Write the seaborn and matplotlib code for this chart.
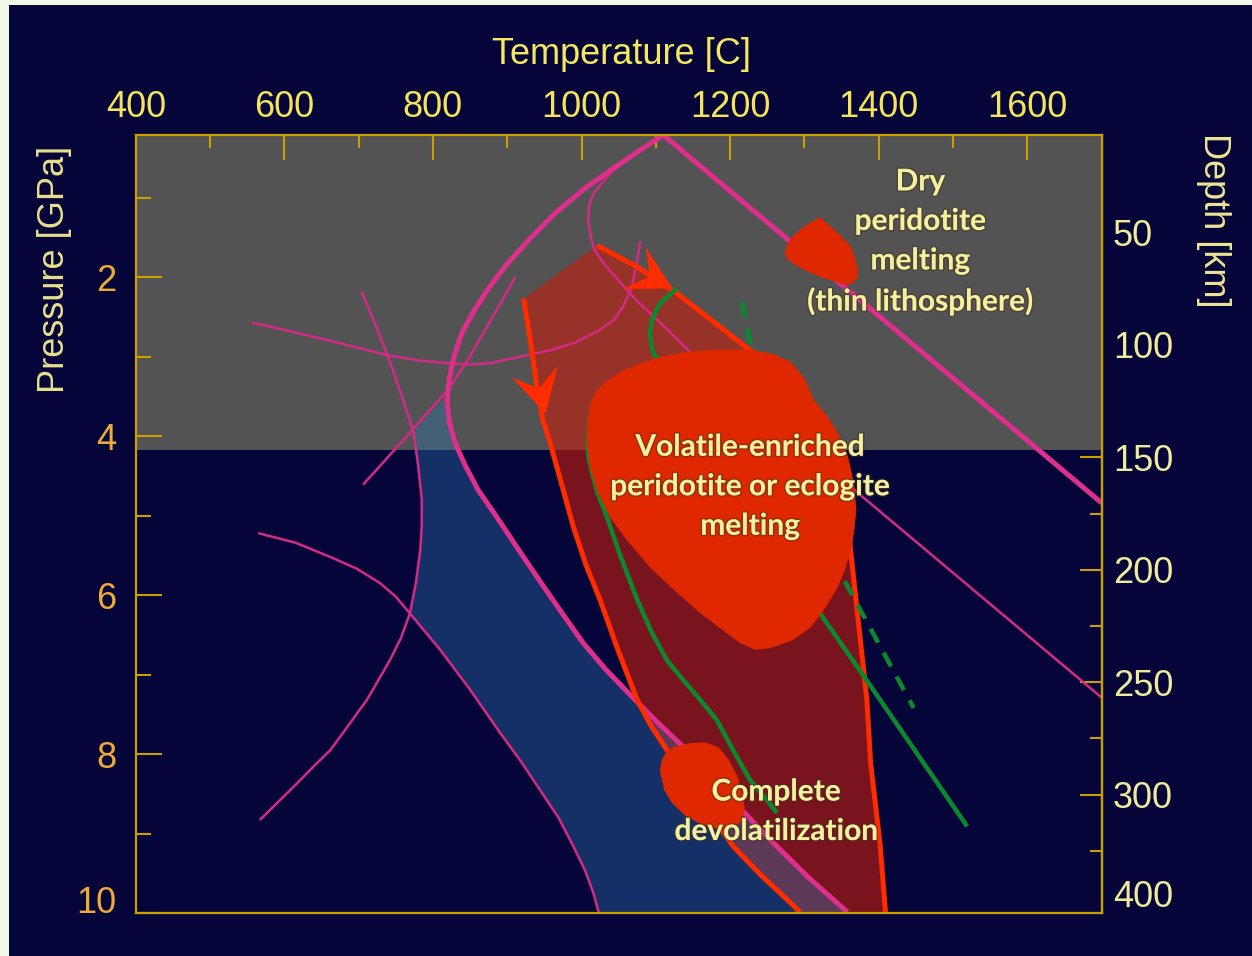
import numpy as np
import matplotlib
matplotlib.use("Agg")
import matplotlib.pyplot as plt
import matplotlib.patheffects as pe
from matplotlib.markers import MarkerStyle
from matplotlib.patches import Rectangle
from matplotlib.path import Path
from matplotlib.transforms import Affine2D
import seaborn as sns

sns.set_theme(style="white")
plt.rcParams["font.family"] = ["Liberation Sans", "DejaVu Sans"]

NAVY = "#05053a"
BORDER = "#f0f8e8"
GRAY = "#535353"
GOLD = "#c9a000"
PINK = "#de2f8c"
PINK_THIN = "#d42a86"
RED_LINE = "#ff2c00"
BLOB = "#e02800"
GREEN = "#0a8a2e"
LABEL = "#f5f0a0"

# ---- axes ----
temp_range = (400, 1700)
pressure_range = (10.0, 0.21)
temp_major = [400, 600, 800, 1000, 1200, 1400, 1600]
temp_minor = [500, 700, 900, 1100, 1300, 1500]
pressure_major = [2, 4, 6, 8, 10]
pressure_minor = [1, 3, 5, 7, 9]
depth_major = [50, 100, 150, 200, 250, 300, 350]
depth_major_labels = ["50", "100", "150", "200", "250", "300", "400"]
depth_minor = [25, 75, 125, 175, 225, 275, 325]
km_per_gpa = 35.33
depth_offset_gpa = 0.02
lithosphere_base = 4.17

# ---- curves: temperature [C], pressure [GPa] ----
solidus_t = [1700, 1110, 1079, 1041, 1002, 965, 931, 901, 877, 856, 839, 829, 822, 819, 822, 830,
             843, 861, 884, 911, 940, 971, 1002, 1033, 1066, 1102, 1137, 1196, 1254, 1305, 1358]
solidus_p = [4.84, 0.21, 0.40, 0.64, 0.90, 1.19, 1.51, 1.82, 2.11, 2.41, 2.70, 2.98, 3.27, 3.55, 3.82, 4.09,
             4.36, 4.68, 4.99, 5.37, 5.77, 6.19, 6.60, 6.94, 7.26, 7.60, 7.91, 8.51, 9.08, 9.55, 9.99]

thin_a_t = [556, 608, 662, 738, 783, 819, 850, 877, 917, 958, 992, 1025, 1043, 1056, 1068, 1075, 1079]
thin_a_p = [2.57, 2.68, 2.80, 2.98, 3.05, 3.08, 3.10, 3.08, 3.00, 2.92, 2.82, 2.66, 2.54, 2.37, 2.12, 1.78, 1.55]

thin_b_t = [1079, 1059, 1039, 1025, 1016, 1010, 1009, 1012, 1016, 1024, 1034, 1047, 1061, 1076, 1092,
            1119, 1146, 1700]
thin_b_p = [0.40, 0.53, 0.69, 0.84, 0.95, 1.10, 1.28, 1.46, 1.62, 1.75, 1.87, 2.01, 2.16, 2.31, 2.45,
            2.69, 2.94, 7.29]

thin_c_t = [704, 721, 738, 750, 760, 768, 774, 780, 785, 785, 783, 777, 769, 757, 742, 726, 711, 687,
            662, 639, 617, 592, 567]
thin_c_p = [2.18, 2.56, 2.96, 3.27, 3.55, 3.77, 3.96, 4.36, 4.80, 5.12, 5.43, 5.85, 6.23, 6.54, 6.82,
            7.08, 7.32, 7.63, 7.95, 8.16, 8.37, 8.60, 8.83]

thin_d_t = [565, 615, 662, 698, 729, 750, 769, 810, 850, 891, 919, 944, 969, 989, 1005, 1016, 1023]
thin_d_p = [5.22, 5.34, 5.52, 5.67, 5.85, 6.02, 6.23, 6.69, 7.19, 7.74, 8.10, 8.45, 8.80, 9.16, 9.47,
            9.75, 9.99]

thin_e_t = [706, 763, 820, 845, 868, 911]
thin_e_p = [4.61, 4.02, 3.42, 3.07, 2.70, 2.00]

slab_t = [922, 931, 940, 948, 958, 971, 989, 1006, 1025, 1049, 1075, 1092, 1115, 1160, 1204, 1241, 1281, 1294]
slab_p = [2.27, 2.79, 3.38, 3.80, 4.09, 4.53, 5.14, 5.62, 6.06, 6.69, 7.32, 7.62, 7.95, 8.58, 9.16, 9.52, 9.87, 9.99]

hot_t = [1021, 1075, 1128, 1227, 1301, 1346, 1358, 1362, 1384, 1389, 1402, 1409]
hot_p = [1.60, 1.87, 2.20, 2.92, 3.44, 4.17, 4.93, 5.43, 7.32, 8.11, 9.16, 9.99]

green_a_t = [1029, 1017, 1012, 1008, 1009, 1012, 1021, 1034, 1052, 1075, 1094, 1115, 1137, 1160, 1182,
             1204, 1227, 1246, 1263]
green_a_p = [3.38, 3.55, 3.71, 4.05, 4.24, 4.38, 4.70, 5.01, 5.50, 6.06, 6.46, 6.82, 7.07, 7.32, 7.57,
             7.95, 8.33, 8.54, 8.74]

green_b_t = [1128, 1115, 1106, 1101, 1095, 1092, 1094, 1097, 1106, 1321, 1362, 1402, 1519]
green_b_p = [2.14, 2.25, 2.33, 2.41, 2.54, 2.70, 2.85, 2.96, 3.07, 6.23, 6.78, 7.32, 8.91]

green_dash_t = [1216, 1227, 1351, 1447]
green_dash_p = [2.31, 2.82, 5.77, 7.42]

# ---- shaded fields ----
blue_t = [818, 795, 772, 780, 785, 785, 783, 777, 769, 810, 850, 891, 919, 944, 969, 989, 1005, 1016, 1023,
          1358, 1305, 1254, 1196, 1137, 1102, 1066, 1033, 1002, 971, 940, 911, 884, 861, 843, 830, 822, 819]
blue_p = [3.50, 3.73, 3.96, 4.36, 4.80, 5.12, 5.43, 5.85, 6.23, 6.69, 7.19, 7.74, 8.10, 8.45, 8.80, 9.16, 9.47, 9.75, 10.0,
          10.0, 9.55, 9.08, 8.51, 7.91, 7.60, 7.26, 6.94, 6.60, 6.19, 5.77, 5.37, 4.99, 4.68, 4.36, 4.09, 3.82, 3.55]

volatile_t = [1227, 1257, 1281, 1299, 1312, 1330, 1344, 1358, 1366, 1369, 1366, 1362, 1354, 1344, 1328,
              1308, 1284, 1254, 1234, 1214, 1187, 1160, 1126, 1093, 1063, 1039, 1022, 1012, 1008, 1008,
              1009, 1012, 1020, 1033, 1056, 1082, 1110, 1146, 1183]
volatile_p = [2.92, 2.97, 3.07, 3.27, 3.55, 3.75, 3.96, 4.26, 4.59, 4.93, 5.21, 5.43, 5.67, 5.90, 6.15,
              6.40, 6.56, 6.66, 6.68, 6.60, 6.41, 6.22, 5.94, 5.65, 5.32, 5.02, 4.70, 4.39, 4.11, 3.96,
              3.80, 3.61, 3.44, 3.32, 3.18, 3.08, 3.00, 2.94, 2.92]

dry_t = [1274, 1278, 1285, 1298, 1312, 1321, 1324, 1335, 1348, 1362, 1368, 1371, 1371, 1364, 1355,
         1339, 1321, 1302, 1285, 1277]
dry_p = [1.70, 1.58, 1.49, 1.38, 1.30, 1.25, 1.28, 1.37, 1.48, 1.62, 1.78, 1.91, 2.00, 2.07, 2.09,
         2.04, 1.99, 1.91, 1.82, 1.76]

devol_t = [1106, 1109, 1115, 1126, 1146, 1166, 1184, 1197, 1208, 1216, 1219, 1214, 1200, 1180, 1160,
           1140, 1122, 1112]
devol_p = [8.20, 8.07, 7.97, 7.91, 7.87, 7.86, 7.92, 8.07, 8.26, 8.49, 8.70, 8.85, 8.93, 8.93, 8.87,
           8.77, 8.61, 8.45]

# ---- arrows along the paths (tail, tip) ----
arrow_tails = [(942, 3.38), (1076, 1.91)]
arrow_tips = [(951, 3.71), (1122, 2.14)]

# ---- labels ----
field_labels = ["Dry\nperidotite\nmelting\n(thin lithosphere)",
                "Volatile-enriched\nperidotite or eclogite\nmelting",
                "Complete\ndevolatilization"]
field_label_t = [1456, 1227, 1262]
field_label_p = [1.55, 4.63, 8.72]

W, H = 1252, 956
fig = plt.figure(figsize=(W / 100, H / 100), dpi=100, facecolor=BORDER)
fig.add_artist(Rectangle((9 / W, 0), 1, 1 - 5 / H, transform=fig.transFigure,
                         facecolor=NAVY, edgecolor="none", zorder=0))
ax = fig.add_axes([135.7 / W, 1 - 913 / H, (1101.7 - 135.7) / W, (913 - 135) / H])
ax.set_facecolor(NAVY)
ax.set_xlim(*temp_range)
ax.set_ylim(*pressure_range)

ax.axhspan(pressure_range[1], lithosphere_base, color=GRAY, lw=0, zorder=0.5)

ax.fill(slab_t + hot_t[::-1], slab_p + hot_p[::-1], color=(192/255, 30/255, 15/255),
        alpha=0.625, lw=0, zorder=1)
ax.fill(blue_t, blue_p, color=(45/255, 120/255, 180/255), alpha=0.375, lw=0, zorder=1.2)


def curve(t, p, color, lw, z):
    sns.lineplot(x=t, y=p, sort=False, estimator=None, color=color, lw=lw,
                 ax=ax, zorder=z, legend=False, solid_joinstyle="round", solid_capstyle="butt")


for t, p in [(thin_a_t, thin_a_p), (thin_b_t, thin_b_p), (thin_c_t, thin_c_p),
             (thin_d_t, thin_d_p), (thin_e_t, thin_e_p)]:
    curve(t, p, PINK_THIN, 1.8, 2)
curve(solidus_t, solidus_p, PINK, 3.6, 2.2)
curve(slab_t, slab_p, RED_LINE, 3.6, 2.5)
curve(hot_t, hot_p, RED_LINE, 3.6, 2.5)
curve(green_a_t, green_a_p, GREEN, 3.2, 2.6)
curve(green_b_t, green_b_p, GREEN, 3.2, 2.6)
ax.plot(green_dash_t, green_dash_p, color=GREEN, lw=3.2, dashes=(3.5, 2.6), zorder=2.6)

for t, p in [(volatile_t, volatile_p), (dry_t, dry_p), (devol_t, devol_p)]:
    ax.fill(t, p, color=BLOB, lw=0.8, ec=BLOB, joinstyle="round", zorder=3)

head = Path([(0, 0), (-1, 0.55), (-0.6, 0), (-1, -0.55), (0, 0)],
            [Path.MOVETO, Path.LINETO, Path.LINETO, Path.LINETO, Path.CLOSEPOLY])
for tail, tip in zip(arrow_tails, arrow_tips):
    a = ax.transData.transform(tail)
    b = ax.transData.transform(tip)
    ang = np.degrees(np.arctan2(b[1] - a[1], b[0] - a[0]))
    m = MarkerStyle(head, transform=Affine2D().rotate_deg(ang))
    ax.plot([tip[0]], [tip[1]], marker=m, ms=62, color=RED_LINE, mec="none", ls="none", zorder=4)

halo = [pe.withStroke(linewidth=2.2, foreground=(0.25, 0.2, 0.1, 0.45))]
for txt, t, p in zip(field_labels, field_label_t, field_label_p):
    ax.text(t, p, txt, ha="center", va="center", multialignment="center",
            color=LABEL, fontsize=21.5, family=["Lato", "DejaVu Sans"], fontweight="bold",
            linespacing=1.5, zorder=5, path_effects=halo)

# ---- ticks and frame ----
ax.xaxis.tick_top()
ax.set_xticks(temp_major)
ax.set_xticks(temp_minor, minor=True)
ax.set_xticklabels([str(v) for v in temp_major])
ax.set_yticks(pressure_major)
ax.set_yticks(pressure_minor, minor=True)
ax.set_yticklabels([str(v) for v in pressure_major])
ax.tick_params(axis="x", which="both", direction="in", top=True, bottom=False,
               color=GOLD, width=1.5)
ax.tick_params(axis="x", which="major", length=18, labelsize=26, labelcolor="#f3e45c", pad=7.5)
ax.tick_params(axis="x", which="minor", length=9.5)
ax.tick_params(axis="y", which="both", direction="in", left=True, right=False,
               color=GOLD, width=1.5)
ax.tick_params(axis="y", which="major", length=19, labelsize=26, labelcolor="#eeaa38", pad=14)
ax.tick_params(axis="y", which="minor", length=11)
ax.yaxis.get_major_ticks()[-1].label1.set_va("baseline")
for s in ax.spines.values():
    s.set_color(GOLD)
    s.set_linewidth(1.6)

sec = ax.secondary_yaxis("right", functions=(lambda p: (p - depth_offset_gpa) * km_per_gpa,
                                              lambda d: depth_offset_gpa + d / km_per_gpa))
sec.set_yticks(depth_major)
sec.set_yticks(depth_minor, minor=True)
sec.set_yticklabels(depth_major_labels)
sec.tick_params(axis="y", which="both", direction="in", color=GOLD, width=1.5)
sec.tick_params(axis="y", which="major", length=16, labelsize=26, labelcolor="#f0eb9c", pad=8)
sec.tick_params(axis="y", which="minor", length=9)
sec.spines["right"].set_color(GOLD)
sec.spines["right"].set_linewidth(1.6)
last = sec.yaxis.get_major_ticks()[-1]
last.tick1line.set_visible(False)
last.tick2line.set_visible(False)
last.label2.set_va("baseline")

fig.text(622 / W, 1 - 54 / H, "Temperature [C]", ha="center", va="center",
         fontsize=26, color="#f3e860")
fig.text(55 / W, 1 - 269 / H, "Pressure [GPa]", ha="center", va="center",
         rotation=90, fontsize=26, color="#e8e08e")
fig.text(1214 / W, 1 - 220 / H, "Depth [km]", ha="center", va="center",
         rotation=-90, fontsize=26, color="#ece496")

fig.savefig("out.png", dpi=100, facecolor=BORDER)
